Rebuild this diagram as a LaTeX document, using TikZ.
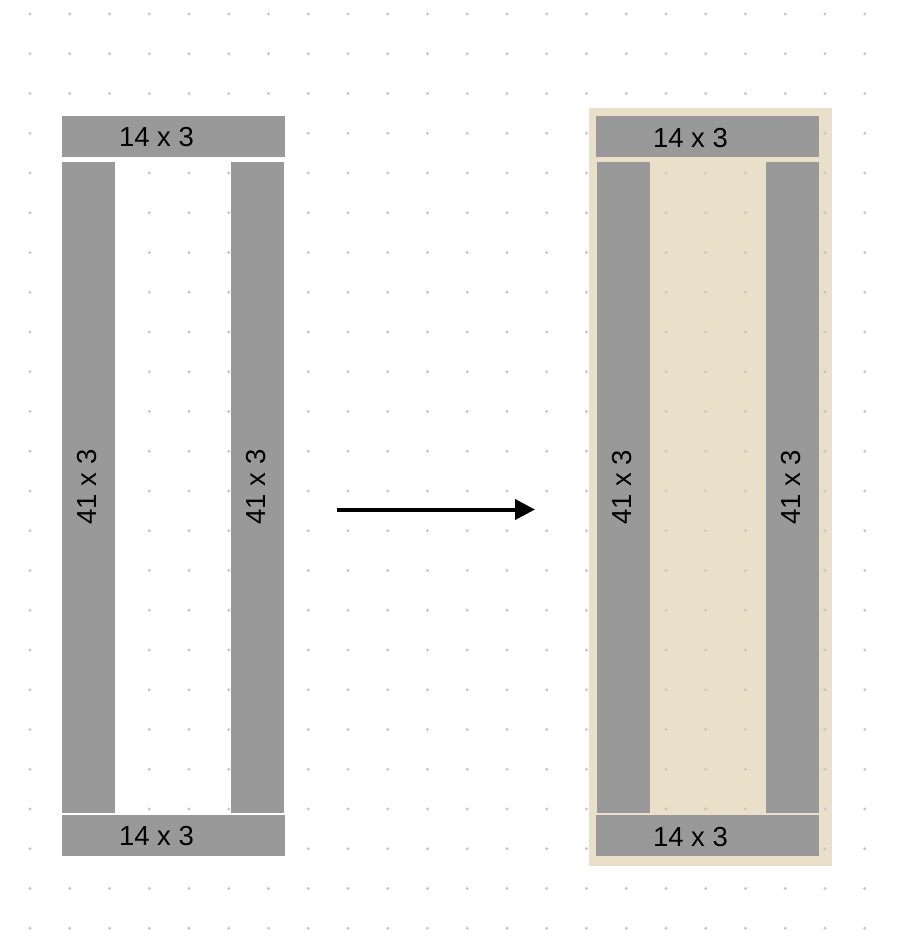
\documentclass[tikz,border=0pt]{standalone}
\usepackage{fontspec}
\setmainfont{Liberation Sans}
\usepackage{tikz}
\usetikzlibrary{arrows.meta}
\definecolor{barc}{HTML}{999999}
\definecolor{sandc}{HTML}{EAE0CA}
\definecolor{dotc}{HTML}{C6C6C6}

\begin{document}
\begin{tikzpicture}[x=1pt, y=-1pt]
        \tikzset{hbar/.style={rectangle, fill=barc, inner sep=0, minimum width=223pt, minimum height=41pt}}
        \tikzset{vbar/.style={rectangle, fill=barc, inner sep=0, minimum width=53pt, minimum height=651pt}}
        \tikzset{lbl/.style={inner sep=0, font=\fontsize{27.5}{33}\selectfont}}
        \useasboundingbox (0,0) rectangle (898,948);
        % sand backing of the right frame
        \fill[sandc] (589,108) rectangle (832,866);
        % dot grid
        \foreach \i in {0,...,21}
          \foreach \j in {0,...,23}
            \fill[dotc] (30+39.75*\i, 14+39.75*\j) circle (1.6pt);
        % left frame
        \node[hbar] (topL) at (173.5, 136.3) {};
        \node[vbar] (sideLa) at (88.5, 487) {};
        \node[vbar] (sideLb) at (257.5, 487) {};
        \node[hbar] (botL) at (173.5, 835.4) {};
        \node[lbl] (topLt) at ([xshift=-17pt, yshift=-1pt]topL.center) {14 x 3};
        \node[lbl] (botLt) at ([xshift=-17pt, yshift=-1pt]botL.center) {14 x 3};
        \node[lbl, rotate=90] (sideLat) at ([xshift=-1.5pt]sideLa.center) {41 x 3};
        \node[lbl, rotate=90] (sideLbt) at ([xshift=-1.5pt]sideLb.center) {41 x 3};
        % right frame
        \node[hbar] (topR) at (707.5, 136.8) {};
        \node[vbar] (sideRa) at (623.5, 487.4) {};
        \node[vbar] (sideRb) at (792.5, 487.4) {};
        \node[hbar] (botR) at (707.5, 835.8) {};
        \node[lbl] (topRt) at ([xshift=-17pt, yshift=-1pt]topR.center) {14 x 3};
        \node[lbl] (botRt) at ([xshift=-17pt, yshift=-1pt]botR.center) {14 x 3};
        \node[lbl, rotate=90] (sideRat) at ([xshift=-1.5pt]sideRa.center) {41 x 3};
        \node[lbl, rotate=90] (sideRbt) at ([xshift=-1.5pt]sideRb.center) {41 x 3};
        % arrow
        \coordinate (from) at (337, 509.5);
        \coordinate (to) at (535, 509.5);
        \tikzset{mystyle/.style={line width=4pt, -{Triangle[length=20pt, width=20pt]}}}
        \draw[mystyle] (from) -- (to);
\end{tikzpicture}
\end{document}
